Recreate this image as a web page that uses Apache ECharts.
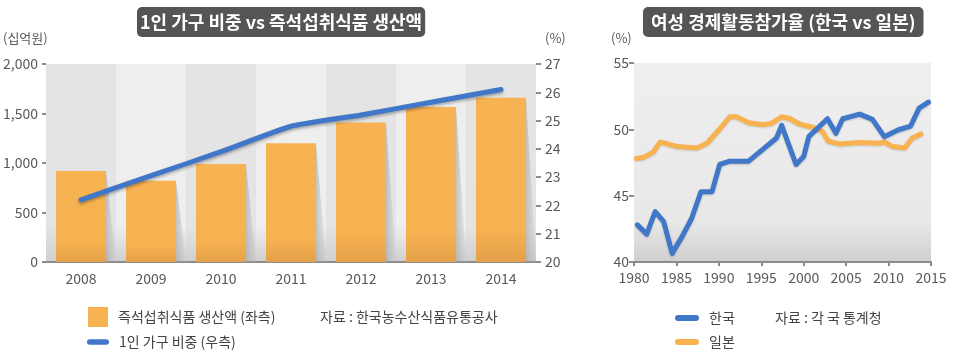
<!DOCTYPE html>
<html><head><meta charset="utf-8">
<script src="https://cdn.jsdelivr.net/npm/echarts@6/dist/echarts.min.js"></script>
<style>html,body{margin:0;padding:0;background:#fff}#c{width:961px;height:359px}</style>
</head><body><div id="c"></div>
<script>
// ---------- data ----------
const leftTitleText = '1인 가구 비중 vs 즉석섭취식품 생산액';
const rightTitleText = '여성 경제활동참가율 (한국 vs 일본)';
const years = ['2008', '2009', '2010', '2011', '2012', '2013', '2014'];
const production = [920, 820, 990, 1200, 1410, 1565, 1660];      // 십억원
const singleShare = [22.2, 23.05, 23.9, 24.8, 25.2, 25.65, 26.1]; // %
const leftTicks = [0, 500, 1000, 1500, 2000];
const rightTicks = [20, 21, 22, 23, 24, 25, 26, 27];
const prodName = '즉석섭취식품 생산액 (좌측)';
const shareName = '1인 가구 비중 (우측)';
const leftSource = '자료 : 한국농수산식품유통공사';

const koreaX = [1980.4, 1981.5, 1982.5, 1983.5, 1984.5, 1985.7, 1986.8, 1987.9, 1989.2, 1990.1, 1991.3, 1993.5, 1996.8, 1997.4, 1999.1, 2000.0, 2000.6, 2002.8, 2003.8, 2004.6, 2006.6, 2008.1, 2009.5, 2011.1, 2012.6, 2013.6, 2014.7];
const koreaY = [42.8, 42.1, 43.8, 43.05, 40.65, 41.95, 43.3, 45.3, 45.3, 47.35, 47.6, 47.6, 49.35, 50.3, 47.35, 47.95, 49.45, 50.8, 49.7, 50.8, 51.15, 50.75, 49.45, 49.95, 50.25, 51.6, 52.05];
const japanX = [1980.3, 1981.2, 1982.3, 1983.1, 1985.1, 1987.4, 1988.6, 1990.0, 1991.3, 1992.1, 1993.5, 1995.2, 1996.2, 1997.4, 1998.4, 1999.5, 2001.1, 2002.2, 2002.9, 2004.2, 2006.6, 2008.9, 2009.5, 2010.5, 2011.9, 2012.8, 2013.8];
const japanY = [47.8, 47.9, 48.3, 49.05, 48.7, 48.6, 48.95, 49.95, 50.95, 50.95, 50.5, 50.35, 50.45, 50.95, 50.8, 50.4, 50.15, 49.85, 49.1, 48.9, 49.0, 48.95, 49.05, 48.7, 48.6, 49.35, 49.65];
const rightXTicks = [1980, 1985, 1990, 1995, 2000, 2005, 2010, 2015];
const rightYTicks = [40, 45, 50, 55];
const koreaName = '한국';
const japanName = '일본';
const rightSource = '자료 : 각 국 통계청';

// ---------- style ----------
const FONT = "'Noto Sans CJK KR', 'Noto Sans', sans-serif";
const BLUE = '#4177c9';
const ORANGE = '#f8b24f';
const BAR = '#f7b352';
const LABEL = '#595959';
const G = echarts.graphic.LinearGradient;

const chart = echarts.init(document.getElementById('c'));
const capsule = 'path://M3,0H21A3,3,0,0,1,21,6H3A3,3,0,0,1,3,0Z';
const legendText = {color: '#444', fontSize: 14, fontFamily: FONT, padding: [0, 0, 0, 5]};

function band(c) {
  return new G(0, 0, 0, 1, [{offset: 0, color: c}, {offset: 0.82, color: c}, {offset: 1, color: '#cfcfcf'}]);
}

chart.setOption({
  animation: false,
  textStyle: {fontFamily: FONT},
  title: [
    {text: leftTitleText, left: 137, top: 7, backgroundColor: '#555555', borderRadius: 5, padding: [6, 3],
     textStyle: {color: '#fff', fontSize: 18, fontWeight: 'bold', fontFamily: FONT}},
    {text: rightTitleText, left: 643, top: 7, backgroundColor: '#555555', borderRadius: 5, padding: [6, 8],
     textStyle: {color: '#fff', fontSize: 18, fontWeight: 'bold', fontFamily: FONT}}
  ],
  legend: [
    {data: [{name: prodName, icon: 'rect', itemStyle: {color: BAR}}], left: 88, top: 307, itemWidth: 20, itemHeight: 20, padding: 0,
     textStyle: legendText, selectedMode: false, itemStyle: {borderWidth: 0}},
    {data: [{name: shareName, icon: capsule}], left: 87, top: 335, itemWidth: 22, itemHeight: 6, padding: 0,
     textStyle: legendText, selectedMode: false, itemStyle: {borderWidth: 0}},
    {data: [{name: koreaName, icon: capsule}], left: 675, top: 311, itemWidth: 24, itemHeight: 6, padding: 0,
     textStyle: legendText, selectedMode: false, itemStyle: {borderWidth: 0}},
    {data: [{name: japanName, icon: capsule}], left: 675, top: 335, itemWidth: 24, itemHeight: 6, padding: 0,
     textStyle: legendText, selectedMode: false, itemStyle: {borderWidth: 0}}
  ],
  graphic: [
    {type: 'text', left: 3, top: 32, style: {text: '(십억원)', fill: LABEL, font: '13px ' + FONT}},
    {type: 'text', left: 545, top: 32, style: {text: '(%)', fill: LABEL, font: '13px ' + FONT}},
    {type: 'text', left: 611, top: 32, style: {text: '(%)', fill: LABEL, font: '13px ' + FONT}},
    {type: 'text', x: 320, y: 317, style: {text: leftSource, fill: '#444', font: '14px ' + FONT, verticalAlign: 'middle'}},
    {type: 'text', x: 775, y: 318, style: {text: rightSource, fill: '#444', font: '14px ' + FONT, verticalAlign: 'middle'}}
  ],
  grid: [
    {left: 46, right: 425, top: 64, bottom: 97},
    {left: 634, right: 30, top: 63, bottom: 97, show: true, borderWidth: 0,
     backgroundColor: new G(0, 0, 0, 1, [{offset: 0, color: '#efefef'}, {offset: 0.8, color: '#e8e8e8'}, {offset: 1, color: '#cfcfcf'}])}
  ],
  xAxis: [
    {type: 'category', gridIndex: 0, data: years, boundaryGap: true,
     axisLine: {lineStyle: {color: '#8c8c8c', width: 2}}, axisTick: {show: false},
     axisLabel: {color: LABEL, fontSize: 14, margin: 10, fontFamily: FONT},
     splitArea: {show: true, areaStyle: {color: [band('#e4e4e4'), band('#eeeeee')]}}},
    {type: 'value', gridIndex: 1, min: rightXTicks[0], max: rightXTicks[rightXTicks.length - 1], interval: 5,
     axisLine: {lineStyle: {color: '#8c8c8c', width: 2}}, axisTick: {show: true, length: 4, lineStyle: {color: '#8c8c8c', width: 2}},
     axisLabel: {color: LABEL, fontSize: 14, margin: 9, fontFamily: FONT, formatter: v => String(v)}, splitLine: {show: false}}
  ],
  yAxis: [
    {type: 'value', gridIndex: 0, min: leftTicks[0], max: leftTicks[leftTicks.length - 1], interval: 500,
     axisLine: {show: false}, axisTick: {show: true, length: 4, lineStyle: {color: '#8c8c8c', width: 2}},
     axisLabel: {color: LABEL, fontSize: 14, margin: 8, fontFamily: FONT, formatter: v => v.toLocaleString('en-US')},
     splitLine: {show: false}},
    {type: 'value', gridIndex: 0, position: 'right', min: rightTicks[0], max: rightTicks[rightTicks.length - 1], interval: 1,
     axisLine: {show: false}, axisTick: {show: true, length: 5, lineStyle: {color: '#8c8c8c', width: 2}},
     axisLabel: {color: LABEL, fontSize: 14, margin: 9, fontFamily: FONT}, splitLine: {show: false}},
    {type: 'value', gridIndex: 1, min: rightYTicks[0], max: rightYTicks[rightYTicks.length - 1], interval: 5,
     axisLine: {show: false}, axisTick: {show: true, length: 5, lineStyle: {color: '#8c8c8c', width: 2}},
     axisLabel: {color: LABEL, fontSize: 14, margin: 5, fontFamily: FONT}, splitLine: {show: false}}
  ],
  series: [
    {type: 'custom', name: 'shadow', xAxisIndex: 0, yAxisIndex: 0, z: 1, silent: true,
     data: production.map((v, i) => [i, v]),
     renderItem: function (params, api) {
       const top = api.coord([api.value(0), api.value(1)]);
       const base = api.coord([api.value(0), 0]);
       const hw = 25;
       return {type: 'polygon',
         shape: {points: [[top[0] + hw, top[1]], [top[0] + hw, base[1]], [top[0] + hw + 10, base[1]]]},
         style: {fill: new G(0, 0, 1, 0, [{offset: 0, color: 'rgba(160,160,160,0.55)'}, {offset: 1, color: 'rgba(190,190,190,0.2)'}])}};
     }},
    {type: 'bar', name: prodName, xAxisIndex: 0, yAxisIndex: 0, data: production, barWidth: 50, z: 2,
     itemStyle: {color: new G(0, 0, 0, 1, [{offset: 0, color: BAR}, {offset: 0.8, color: '#f6b150'}, {offset: 1, color: '#e4a14a'}])}},
    {type: 'line', name: shareName, xAxisIndex: 0, yAxisIndex: 1, data: singleShare, z: 3,
     symbol: 'none', smooth: 0.15, color: BLUE,
     lineStyle: {width: 5, color: BLUE, cap: 'round', join: 'round', shadowColor: 'rgba(0,0,0,0.3)', shadowBlur: 3, shadowOffsetY: 2}},
    {type: 'line', name: japanName, xAxisIndex: 1, yAxisIndex: 2, data: japanX.map((x, i) => [x, japanY[i]]), z: 3,
     symbol: 'none', color: ORANGE,
     lineStyle: {width: 5, color: ORANGE, cap: 'round', join: 'round', shadowColor: 'rgba(0,0,0,0.15)', shadowBlur: 2, shadowOffsetY: 1}},
    {type: 'line', name: koreaName, xAxisIndex: 1, yAxisIndex: 2, data: koreaX.map((x, i) => [x, koreaY[i]]), z: 4,
     symbol: 'none', color: BLUE,
     lineStyle: {width: 5, color: BLUE, cap: 'round', join: 'round', shadowColor: 'rgba(0,0,0,0.2)', shadowBlur: 2, shadowOffsetY: 1}}
  ]
});
</script>
</body></html>
